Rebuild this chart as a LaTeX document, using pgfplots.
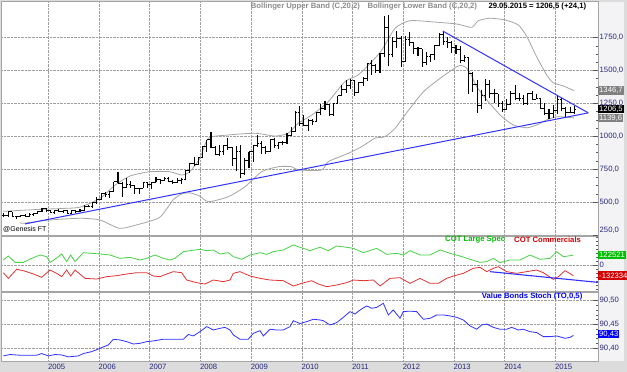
\documentclass[border=0pt]{standalone}
\usepackage{fontspec}
\setmainfont{Liberation Sans}
\usepackage{pgfplots}
\pgfplotsset{compat=1.18}
\usepackage{pgfplotstable}

\definecolor{navy}{RGB}{40,40,130}
\definecolor{bandgray}{RGB}{165,165,165}
\definecolor{trendblue}{RGB}{50,50,255}
\definecolor{cotgreen}{RGB}{70,210,70}
\definecolor{cotred}{RGB}{225,50,50}
\definecolor{labgreen}{RGB}{0,190,0}
\definecolor{labred}{RGB}{210,0,0}
\definecolor{framegray}{RGB}{165,165,165}
\definecolor{bggray}{RGB}{220,220,220}
\definecolor{colgray}{RGB}{243,243,245}
\definecolor{hdrgray}{RGB}{140,140,140}

\newcommand\ff{\fontsize{7.7bp}{9bp}\selectfont}

\pgfdeclareplotmark{ohlcopen}{\pgfpathmoveto{\pgfpoint{-2bp}{0bp}}\pgfpathlineto{\pgfpoint{0bp}{0bp}}\pgfusepathqstroke}
\pgfdeclareplotmark{ohlcclose}{\pgfpathmoveto{\pgfpoint{0bp}{0bp}}\pgfpathlineto{\pgfpoint{2bp}{0bp}}\pgfusepathqstroke}

\pgfplotstableread{
yr mo o h l c
2004 2 402 419 390 397
2004 3 397 431 390 426
2004 4 426 428 386 388
2004 5 388 397 371 394
2004 6 394 400 383 395
2004 7 395 409 387 391
2004 8 391 417 389 408
2004 9 408 418 397 416
2004 10 416 430 410 429
2004 11 429 456 427 452
2004 12 452 457 428 438
2005 1 438 440 418 423
2005 2 423 437 410 435
2005 3 435 446 423 428
2005 4 428 438 419 435
2005 5 435 437 414 417
2005 6 417 443 414 435
2005 7 435 438 417 429
2005 8 429 448 426 433
2005 9 433 475 432 469
2005 10 469 478 459 470
2005 11 470 497 455 495
2005 12 495 541 488 517
2006 1 517 572 516 569
2006 2 569 574 538 557
2006 3 557 587 534 583
2006 4 583 655 583 654
2006 5 654 732 642 643
2006 6 643 652 542 614
2006 7 614 680 606 634
2006 8 634 664 610 624
2006 9 624 633 560 600
2006 10 600 610 560 606
2006 11 606 650 606 648
2006 12 648 650 608 636
2007 1 636 656 603 652
2007 2 652 690 650 672
2007 3 672 672 636 662
2007 4 662 694 662 681
2007 5 681 692 650 660
2007 6 660 671 640 650
2007 7 650 683 647 666
2007 8 666 682 640 673
2007 9 673 745 670 743
2007 10 743 795 720 795
2007 11 795 845 776 783
2007 12 783 842 780 836
2008 1 836 930 835 926
2008 2 926 975 882 975
2008 3 975 1033 908 916
2008 4 916 926 861 864
2008 5 864 935 851 887
2008 6 887 937 858 930
2008 7 930 988 897 912
2008 8 912 917 774 834
2008 9 834 930 735 884
2008 10 884 932 681 718
2008 11 718 836 705 816
2008 12 816 881 760 884
2009 1 884 930 803 928
2009 2 928 1007 917 942
2009 3 942 962 867 916
2009 4 916 928 865 883
2009 5 883 982 877 979
2009 6 979 990 914 927
2009 7 927 959 905 953
2009 8 953 968 933 955
2009 9 955 1024 945 1008
2009 10 1008 1070 1003 1040
2009 11 1040 1195 1034 1182
2009 12 1182 1227 1075 1096
2010 1 1096 1162 1075 1081
2010 2 1081 1128 1044 1118
2010 3 1118 1134 1088 1113
2010 4 1113 1183 1113 1180
2010 5 1180 1249 1163 1212
2010 6 1212 1265 1199 1244
2010 7 1244 1244 1157 1169
2010 8 1169 1248 1158 1248
2010 9 1248 1307 1242 1307
2010 10 1307 1388 1307 1357
2010 11 1357 1424 1330 1386
2010 12 1386 1432 1361 1421
2011 1 1421 1424 1309 1333
2011 2 1333 1411 1329 1410
2011 3 1410 1447 1381 1439
2011 4 1439 1557 1417 1556
2011 5 1556 1577 1462 1536
2011 6 1536 1552 1478 1500
2011 7 1500 1632 1480 1628
2011 8 1628 1913 1604 1828
2011 9 1828 1921 1535 1620
2011 10 1620 1757 1600 1722
2011 11 1722 1803 1671 1746
2011 12 1746 1764 1523 1566
2012 1 1566 1764 1563 1737
2012 2 1737 1792 1687 1711
2012 3 1711 1714 1627 1669
2012 4 1669 1677 1612 1664
2012 5 1664 1666 1527 1560
2012 6 1560 1640 1540 1604
2012 7 1604 1627 1564 1622
2012 8 1622 1692 1583 1687
2012 9 1687 1788 1683 1772
2012 10 1772 1796 1693 1719
2012 11 1719 1755 1672 1714
2012 12 1714 1724 1636 1675
2013 1 1675 1694 1626 1663
2013 2 1663 1683 1555 1578
2013 3 1578 1617 1563 1596
2013 4 1596 1606 1321 1476
2013 5 1476 1487 1339 1393
2013 6 1393 1424 1180 1234
2013 7 1234 1348 1207 1312
2013 8 1312 1434 1272 1396
2013 9 1396 1424 1291 1326
2013 10 1326 1361 1251 1323
2013 11 1323 1323 1226 1253
2013 12 1253 1267 1187 1202
2014 1 1202 1280 1202 1240
2014 2 1240 1345 1239 1326
2014 3 1326 1392 1277 1284
2014 4 1284 1331 1268 1288
2014 5 1288 1315 1240 1250
2014 6 1250 1332 1241 1327
2014 7 1327 1345 1281 1282
2014 8 1282 1324 1280 1287
2014 9 1287 1290 1206 1211
2014 10 1211 1256 1160 1171
2014 11 1171 1206 1131 1175
2014 12 1175 1238 1142 1199
2015 1 1199 1307 1167 1283
2015 2 1283 1289 1190 1212
2015 3 1212 1224 1142 1183
2015 4 1183 1224 1175 1182
2015 5 1182 1232 1169 1206.5
}\gold

\pgfplotsset{
  panel/.style={
    scale only axis, width=597bp,
    xmin=2004.067, xmax=2015.842,
    axis line style={framegray, line width=1bp},
    xtick={2005,2006,2007,2008,2009,2010,2011,2012,2013,2014,2015},
    xmajorgrids, ymajorgrids,
    grid style={densely dotted, gray!75, line width=0.6bp},
    xtick style={draw=none},
    xticklabels={},
    ytick pos=right, tick align=inside,
    major tick length=5bp, minor tick length=2.5bp,
    ytick style={gray!70!black, line width=0.6bp},
    yticklabel style={font=\ff, text=navy, anchor=west, inner sep=0pt, xshift=1.5bp},
    clip mode=individual,
    axis background/.style={fill=white},
    /pgf/number format/assume math mode=true,
  },
}
\tikzset{box/.style={anchor=west, inner xsep=1bp, inner ysep=0.6bp, text=white, font=\ff, minimum height=8.5bp}}

\begin{document}
\begin{tikzpicture}
\useasboundingbox (0,0) rectangle (627bp,372bp);
\clip (0,0) rectangle (627bp,372bp);
\fill[bggray] (0,0) rectangle (627bp,372bp);
\fill[colgray] (598bp,10.5bp) rectangle (624bp,370bp);

% ---------------- main panel ----------------
\begin{axis}[panel, at={(1bp,136.5bp)}, anchor=south west, height=233.5bp,
  ymin=246.2, ymax=2020.5,
  ytick={500,750,1000,1250,1500,1750}, minor y tick num=3,
  yticklabel style={/pgf/number format/fixed, /pgf/number format/fixed zerofill, /pgf/number format/precision=1, /pgf/number format/use comma, /pgf/number format/1000 sep={}},
  extra y ticks={250}, extra y tick style={grid=none, yticklabel style={yshift=4.5bp}}]
\addplot[bandgray, line width=0.8bp, smooth, tension=0.4] coordinates {
(2004.11,430) (2004.84,445) (2005.30,452) (2005.63,462) (2006.02,529) (2006.32,630) (2006.61,698)
(2007.00,731) (2007.39,731) (2007.63,706) (2007.79,731) (2007.99,833) (2008.16,985) (2008.55,1010)
(2009.08,1023) (2009.47,1002) (2009.73,1023) (2009.93,1099) (2010.20,1162) (2010.52,1263)
(2010.85,1415) (2011.11,1466) (2011.38,1567) (2011.58,1656) (2011.84,1821) (2012.13,1878)
(2012.59,1869) (2013.06,1853) (2013.35,1828) (2013.48,1878) (2013.71,1897) (2014.01,1884)
(2014.27,1846) (2014.44,1757) (2014.63,1605) (2014.83,1466) (2014.96,1407) (2015.16,1382) (2015.37,1346.7)};
\addplot[bandgray, line width=0.8bp, smooth, tension=0.4] coordinates {
(2004.45,345) (2004.51,339) (2005.03,364) (2005.63,377) (2006.02,364) (2006.41,301) (2006.81,334)
(2007.20,385) (2007.47,520) (2007.65,565) (2007.80,570) (2007.99,545) (2008.16,503) (2008.55,541)
(2008.88,617) (2009.21,731) (2009.54,769) (2009.80,769) (2009.93,744) (2010.39,744) (2010.52,807)
(2010.92,871) (2011.18,921) (2011.44,985) (2011.64,997) (2011.84,1061) (2012.05,1170) (2012.40,1339)
(2012.73,1441) (2013.06,1529) (2013.16,1537) (2013.29,1504) (2013.45,1377) (2013.65,1276)
(2013.91,1162) (2014.17,1086) (2014.44,1065) (2014.63,1086) (2014.83,1124) (2015.03,1149)
(2015.23,1144) (2015.37,1139.6)};
% high-low
\addplot[draw=none, mark=none, error bars/.cd, y dir=plus, y explicit, error mark=none,
  error bar style={draw=black, solid, line width=1.1bp}]
  table[x expr=\thisrow{yr}+(\thisrow{mo}-0.5)/12, y=l, y error plus expr=\thisrow{h}-\thisrow{l}] {\gold};
\addplot[only marks, mark=ohlcopen, mark options={draw=black, line width=0.9bp}]
  table[x expr=\thisrow{yr}+(\thisrow{mo}-0.5)/12, y=o] {\gold};
\addplot[only marks, mark=ohlcclose, mark options={draw=black, line width=0.9bp}]
  table[x expr=\thisrow{yr}+(\thisrow{mo}-0.5)/12, y=c] {\gold};
% trend lines
\addplot[trendblue, line width=1bp] coordinates {(2004.54,334) (2015.65,1178)};
\addplot[trendblue, line width=1bp] coordinates {(2012.78,1800) (2015.65,1178)};
\node[box, fill=gray] at (axis cs:2015.842,1346.7) {1346,7};
\node[box, fill=black] at (axis cs:2015.842,1206.5) {1206,5};
\node[box, fill=gray] at (axis cs:2015.842,1139.6) {1139,6};
\end{axis}

% ---------------- COT panel ----------------
\begin{axis}[panel, at={(1bp,80.5bp)}, anchor=south west, height=55bp,
  ymin=-331, ymax=356, ytick={0}, yticklabels={0},
  minor ytick={-300,-250,-200,-150,-100,-50,50,100,150,200,250,300,350}]
\addplot[cotgreen, line width=0.8bp] coordinates {
(2004.113,62.5) (2004.212,112.5) (2004.343,33) (2004.507,33) (2004.672,83) (2004.836,125) (2004.968,104)
(2005.034,33) (2005.132,71) (2005.264,137.5) (2005.362,42) (2005.441,125) (2005.527,42) (2005.691,154)
(2005.855,146) (2006.020,137.5) (2006.217,125) (2006.414,83) (2006.611,96) (2006.809,62.5) (2006.940,83)
(2007.104,125) (2007.269,83) (2007.400,62.5) (2007.499,83) (2007.663,167) (2007.795,179) (2007.992,196)
(2008.124,179) (2008.255,187.5) (2008.387,137.5) (2008.551,154) (2008.650,104) (2008.814,71) (2008.978,125)
(2009.176,154) (2009.307,133) (2009.438,167) (2009.636,187.5) (2009.833,250) (2009.964,221) (2010.162,179)
(2010.293,208) (2010.359,221) (2010.523,179) (2010.688,237.5) (2010.885,221) (2011.016,208) (2011.214,154)
(2011.477,208) (2011.674,133) (2011.871,146) (2012.003,125) (2012.134,179) (2012.331,125) (2012.529,125)
(2012.726,187.5) (2012.923,146) (2013.120,112.5) (2013.318,71) (2013.515,33) (2013.646,42) (2013.778,83)
(2013.909,29) (2014.107,62.5) (2014.304,62.5) (2014.501,125) (2014.698,71) (2014.895,83) (2015.027,167)
(2015.158,104) (2015.356,122.5)};
\addplot[cotred, line width=0.8bp] coordinates {
(2004.113,-96) (2004.212,-167) (2004.376,-54) (2004.507,-71) (2004.705,-112.5) (2004.869,-154) (2005.034,-62.5)
(2005.165,-104) (2005.264,-146) (2005.362,-62.5) (2005.441,-137.5) (2005.527,-62.5) (2005.724,-167)
(2005.954,-175) (2006.151,-146) (2006.348,-133) (2006.546,-112.5) (2006.743,-96) (2006.940,-96)
(2007.072,-137.5) (2007.203,-146) (2007.335,-112.5) (2007.466,-83) (2007.631,-96) (2007.729,-187.5)
(2007.926,-221) (2008.091,-237.5) (2008.255,-187.5) (2008.452,-208) (2008.584,-187.5) (2008.650,-104)
(2008.781,-83) (2008.978,-137.5) (2009.176,-167) (2009.373,-187.5) (2009.636,-196) (2009.833,-262.5)
(2009.997,-229) (2010.195,-196) (2010.326,-237.5) (2010.490,-271) (2010.688,-250) (2010.885,-221)
(2011.016,-187.5) (2011.214,-196) (2011.411,-187.5) (2011.542,-262.5) (2011.740,-167) (2011.937,-158)
(2012.134,-229) (2012.331,-167) (2012.529,-229) (2012.693,-229) (2012.857,-167) (2012.989,-137.5)
(2013.186,-104) (2013.383,-42) (2013.515,-29) (2013.646,-83) (2013.778,-42) (2013.876,-21) (2014.041,-83)
(2014.238,-104) (2014.435,-83) (2014.632,-62.5) (2014.764,-96) (2014.961,-179) (2015.060,-146)
(2015.191,-71) (2015.356,-132.3)};
\addplot[trendblue, line width=1.1bp] coordinates {(2013.71,-83) (2015.842,-217)};
\node[box, fill=labgreen] at (axis cs:2015.842,122.5) {122521};
\node[box, fill=labred] at (axis cs:2015.842,-132.3) {-132334};
\end{axis}

% ---------------- Stoch panel ----------------
\begin{axis}[panel, at={(1bp,10.5bp)}, anchor=south west, height=69bp,
  ymin=90.3723, ymax=90.5172, ytick={90.40,90.45,90.50}, minor y tick num=4,
  yticklabel style={/pgf/number format/fixed, /pgf/number format/fixed zerofill, /pgf/number format/precision=2, /pgf/number format/use comma, /pgf/number format/1000 sep={}},
  xticklabels={2005,2006,2007,2008,2009,2010,2011,2012,2013,2014,2015},
  xticklabel style={font=\ff, text=navy, anchor=north west, inner sep=0pt, yshift=-2bp, xshift=-0.5bp}]
\addplot[trendblue, line width=0.8bp] coordinates {
(2004.113,90.384) (2004.245,90.387) (2004.442,90.3855) (2004.771,90.3855) (2004.869,90.389) (2005.001,90.384)
(2005.132,90.387) (2005.264,90.386) (2005.395,90.382) (2005.592,90.384) (2005.691,90.389) (2005.855,90.393)
(2005.987,90.3985) (2006.085,90.403) (2006.184,90.407) (2006.283,90.419) (2006.414,90.4175) (2006.546,90.414)
(2006.677,90.409) (2006.809,90.4105) (2006.940,90.414) (2007.072,90.4155) (2007.269,90.419) (2007.466,90.419)
(2007.663,90.419) (2007.762,90.429) (2007.861,90.426) (2007.992,90.435) (2008.124,90.4455) (2008.255,90.4385)
(2008.387,90.442) (2008.485,90.444) (2008.584,90.4385) (2008.650,90.428) (2008.781,90.419) (2008.945,90.419)
(2009.044,90.4315) (2009.176,90.437) (2009.241,90.426) (2009.373,90.440) (2009.504,90.4385) (2009.636,90.4385)
(2009.767,90.4455) (2009.833,90.458) (2009.964,90.452) (2010.096,90.456) (2010.227,90.461) (2010.359,90.4595)
(2010.425,90.458) (2010.556,90.449) (2010.688,90.454) (2010.819,90.465) (2010.951,90.477) (2011.049,90.472)
(2011.148,90.4805) (2011.279,90.489) (2011.378,90.484) (2011.477,90.486) (2011.608,90.4945) (2011.707,90.470)
(2011.805,90.4805) (2011.937,90.463) (2012.003,90.477) (2012.134,90.478) (2012.266,90.477) (2012.397,90.461)
(2012.529,90.463) (2012.660,90.470) (2012.792,90.470) (2012.923,90.468) (2013.055,90.465) (2013.186,90.4595)
(2013.318,90.447) (2013.449,90.440) (2013.548,90.449) (2013.646,90.451) (2013.778,90.444) (2013.909,90.440)
(2014.041,90.440) (2014.139,90.444) (2014.271,90.4385) (2014.369,90.440) (2014.501,90.435) (2014.632,90.433)
(2014.764,90.4245) (2014.895,90.4245) (2015.027,90.426) (2015.191,90.421) (2015.290,90.423) (2015.356,90.427)};
\node[box, fill=blue] at (axis cs:2015.842,90.43) {90,43};
\end{axis}

% ---------------- annotations ----------------
\node[anchor=west, inner sep=0pt, font=\ff\bfseries, text=hdrgray] at (250.7bp,365.5bp) {Bollinger Upper Band (C,20,2)};
\node[anchor=west, inner sep=0pt, font=\ff\bfseries, text=hdrgray] at (367.3bp,365.5bp) {Bollinger Lower Band (C,20,2)};
\node[anchor=west, inner sep=0pt, font=\ff\bfseries, text=black] at (488.3bp,365.5bp) {29.05.2015 = 1206,5 (+24,1)};
\node[anchor=west, inner sep=0pt, font=\fontsize{7bp}{8bp}\selectfont, text=black] at (3bp,143bp) {@Genesis FT};
\node[anchor=west, inner sep=0pt, font=\ff\bfseries, text=labgreen] at (445bp,132bp) {COT Large Spec};
\node[anchor=west, inner sep=0pt, font=\ff\bfseries, text=labred] at (514bp,132bp) {COT Commercials};
\node[anchor=west, inner sep=0pt, font=\ff\bfseries, text=blue] at (481.7bp,75.3bp) {Value Bonds Stoch (TO,0,5)};
\end{tikzpicture}
\end{document}
